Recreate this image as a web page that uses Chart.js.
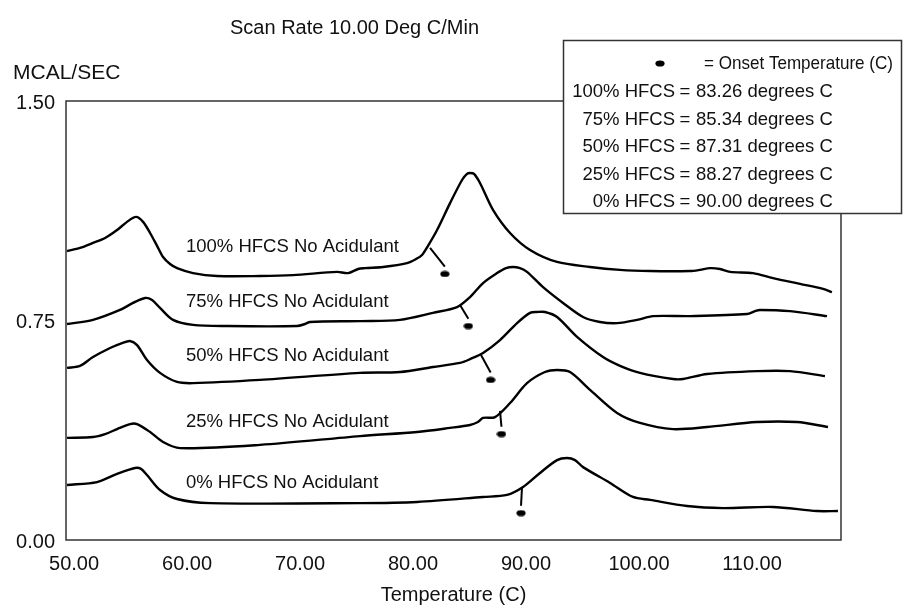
<!DOCTYPE html>
<html>
<head>
<meta charset="utf-8">
<script src="https://cdn.jsdelivr.net/npm/chart.js@4.4.0/dist/chart.umd.min.js"></script>
<style>
    html, body { margin: 0; padding: 0; background: #fff; }
    #wrap { width: 903px; height: 605px; }
</style>
</head>
<body>
<div id="wrap"><canvas id="dscChart" width="903" height="605"></canvas></div>
<script>
// DSC scans at 10 C/min, heat flow (mcal/sec) against temperature (C)
var seriesNames = ['100% HFCS', '75% HFCS', '50% HFCS', '25% HFCS', '0% HFCS'];
var onsetTemps = [83.26, 85.34, 87.31, 88.27, 90.00];
var onsetFlow = [0.909, 0.731, 0.547, 0.362, 0.092];
var kneeTemp = [81.95, 84.60, 86.46, 88.14, 90.09];
var kneeFlow = [0.998, 0.803, 0.632, 0.441, 0.181];
var xTickValues = [50, 60, 70, 80, 90, 100, 110];
var yTickValues = [0, 0.75, 1.5];

var temp100 = [49.82, 50.97, 52.12, 53.19, 54.25, 55.13, 55.93, 56.55, 57.17, 57.79, 58.32, 58.94, 59.56, 60.97, 63.10, 66.90, 69.82, 73.72, 74.69, 75.58, 76.19, 77.79, 79.91, 80.71, 81.24, 81.77, 82.57, 83.72, 84.78, 85.22, 85.49, 85.84, 86.37, 87.52, 89.03, 90.80, 93.19, 96.11, 98.76, 101.42, 104.96, 105.84, 106.73, 107.61, 108.50, 110.53, 112.30, 114.69, 116.73, 117.52];
var flow100 = [0.987, 0.998, 1.015, 1.032, 1.059, 1.087, 1.104, 1.087, 1.049, 1.005, 0.967, 0.943, 0.929, 0.912, 0.902, 0.902, 0.905, 0.916, 0.912, 0.926, 0.929, 0.933, 0.946, 0.960, 0.974, 1.005, 1.059, 1.151, 1.230, 1.251, 1.254, 1.251, 1.220, 1.128, 1.049, 0.991, 0.950, 0.933, 0.923, 0.919, 0.919, 0.923, 0.929, 0.926, 0.916, 0.912, 0.895, 0.875, 0.858, 0.847];

var temp75 = [49.82, 52.12, 54.51, 55.66, 56.73, 57.35, 58.05, 59.20, 60.97, 63.98, 70.18, 70.88, 71.33, 75.75, 79.29, 82.21, 84.34, 85.49, 86.64, 87.88, 88.67, 89.29, 89.91, 90.53, 91.95, 93.72, 95.49, 96.99, 98.50, 100.27, 101.68, 104.96, 110.00, 110.71, 111.15, 113.81, 117.08];
var flow75 = [0.738, 0.752, 0.786, 0.810, 0.827, 0.820, 0.793, 0.752, 0.735, 0.731, 0.731, 0.738, 0.745, 0.748, 0.752, 0.776, 0.796, 0.830, 0.878, 0.912, 0.929, 0.933, 0.929, 0.916, 0.864, 0.810, 0.762, 0.745, 0.741, 0.752, 0.765, 0.765, 0.772, 0.782, 0.786, 0.782, 0.765];

var temp50 = [49.82, 50.97, 52.12, 53.63, 54.69, 55.40, 56.02, 56.90, 58.05, 59.56, 60.97, 66.90, 75.75, 79.29, 82.21, 84.60, 85.49, 86.64, 88.14, 89.65, 90.80, 91.42, 92.12, 93.19, 94.96, 97.26, 98.76, 100.53, 103.45, 104.34, 106.46, 110.88, 113.81, 116.90];
var flow50 = [0.588, 0.595, 0.625, 0.656, 0.673, 0.680, 0.666, 0.615, 0.571, 0.540, 0.536, 0.547, 0.571, 0.574, 0.591, 0.605, 0.618, 0.639, 0.683, 0.741, 0.776, 0.779, 0.779, 0.762, 0.694, 0.625, 0.595, 0.571, 0.550, 0.550, 0.567, 0.577, 0.577, 0.560];

var temp25 = [49.82, 52.12, 53.19, 54.25, 55.40, 56.02, 57.17, 58.32, 59.82, 66.90, 75.75, 80.80, 83.72, 85.49, 86.19, 86.64, 87.70, 89.03, 90.53, 92.12, 93.19, 94.34, 96.11, 98.50, 100.53, 103.45, 106.46, 110.88, 114.42, 117.17];
var flow25 = [0.349, 0.352, 0.362, 0.379, 0.396, 0.396, 0.369, 0.335, 0.314, 0.325, 0.355, 0.369, 0.383, 0.393, 0.403, 0.417, 0.420, 0.468, 0.536, 0.574, 0.581, 0.574, 0.513, 0.434, 0.400, 0.379, 0.386, 0.403, 0.403, 0.386];

var temp0 = [49.82, 52.48, 54.25, 55.84, 56.37, 56.90, 58.05, 59.56, 62.48, 75.75, 80.80, 86.64, 88.76, 90.18, 91.68, 93.19, 94.07, 94.78, 95.49, 97.88, 99.91, 101.42, 104.69, 107.88, 112.30, 116.19, 118.05];
var flow0 = [0.188, 0.198, 0.226, 0.246, 0.243, 0.222, 0.171, 0.140, 0.126, 0.126, 0.130, 0.147, 0.154, 0.181, 0.229, 0.273, 0.280, 0.273, 0.249, 0.195, 0.147, 0.137, 0.116, 0.109, 0.113, 0.099, 0.099];

// where the "No Acidulant" captions sit, in axis units
var captionTemp = 60.35;
var captionFlow = [1.001, 0.813, 0.629, 0.403, 0.195];

var curves = [[temp100, flow100], [temp75, flow75], [temp50, flow50], [temp25, flow25], [temp0, flow0]];

var FONT = '"Liberation Sans", Arial, Helvetica, sans-serif';
var INK = '#111';

// small filled ellipse used for the onset marks
var dotImg = document.createElement('canvas');
dotImg.width = 10;
dotImg.height = 7;
var dctx = dotImg.getContext('2d');
dctx.fillStyle = '#000';
dctx.beginPath();
dctx.ellipse(5, 3.5, 4.6, 3.1, 0, 0, Math.PI * 2);
dctx.fill();

var datasets = [];
curves.forEach(function (c, i) {
    datasets.push({
        label: seriesNames[i],
        data: c[0].map(function (t, j) { return { x: t, y: c[1][j] }; }),
        showLine: true,
        borderColor: '#000',
        borderWidth: 2.4,
        pointRadius: 0,
        tension: 0.3,
        fill: false
    });
    // tangent stroke from the rising edge down to the onset mark
    datasets.push({
        label: seriesNames[i] + ' onset line',
        data: [{ x: kneeTemp[i], y: kneeFlow[i] }, { x: onsetTemps[i], y: onsetFlow[i] + 0.025 }],
        showLine: true,
        borderColor: '#000',
        borderWidth: 2,
        pointRadius: 0,
        tension: 0
    });
});
datasets.push({
    label: 'Onset',
    data: onsetTemps.map(function (t, i) { return { x: t, y: onsetFlow[i] }; }),
    showLine: false,
    pointStyle: dotImg,
    pointRadius: 5,
    borderColor: '#000',
    backgroundColor: '#000'
});

var notes = {
    id: 'notes',
    afterDraw: function (chart) {
        var ctx = chart.ctx;
        var a = chart.chartArea;
        var xs = chart.scales.x, ys = chart.scales.y;
        ctx.save();

        // plot frame
        ctx.strokeStyle = '#333';
        ctx.lineWidth = 1.5;
        ctx.strokeRect(a.left, a.top, a.right - a.left, a.bottom - a.top);

        ctx.fillStyle = INK;
        ctx.textBaseline = 'middle';

        // header and unit label
        ctx.textAlign = 'left';
        ctx.font = '20px ' + FONT;
        ctx.fillText('Scan Rate 10.00 Deg C/Min', 230, 28);
        ctx.font = '21px ' + FONT;
        ctx.fillText('MCAL/SEC', 13, 73);

        // captions next to each trace
        ctx.font = '18.5px ' + FONT;
        seriesNames.forEach(function (name, i) {
            ctx.fillText(name + ' No Acidulant', xs.getPixelForValue(captionTemp), ys.getPixelForValue(captionFlow[i]));
        });

        // key box with onset temperatures
        var bx = 563.5, by = 40.5, bw = 338, bh = 173;
        ctx.fillStyle = '#fff';
        ctx.fillRect(bx, by, bw, bh);
        ctx.strokeStyle = '#333';
        ctx.lineWidth = 1.5;
        ctx.strokeRect(bx, by, bw, bh);

        ctx.fillStyle = INK;
        ctx.font = '18.5px ' + FONT;
        ctx.drawImage(dotImg, 655, 60);
        ctx.textAlign = 'left';
        ctx.fillText('= Onset Temperature (C)', 704, 64, 189);

        seriesNames.forEach(function (name, i) {
            var y = 92 + i * 27.5;
            ctx.textAlign = 'right';
            ctx.fillText(name, 675, y);
            ctx.textAlign = 'center';
            ctx.fillText('=', 685, y);
            ctx.textAlign = 'left';
            ctx.fillText(onsetTemps[i].toFixed(2) + ' degrees C', 696, y);
        });

        ctx.restore();
    }
};

new Chart(document.getElementById('dscChart'), {
    type: 'scatter',
    data: { datasets: datasets },
    options: {
        responsive: false,
        animation: false,
        devicePixelRatio: 1,
        layout: { padding: { left: 0, top: 101, right: 62, bottom: 0 } },
        plugins: {
            legend: { display: false },
            tooltip: { enabled: false }
        },
        scales: {
            x: {
                type: 'linear',
                min: 49.73,
                max: 118.32,
                afterBuildTicks: function (scale) {
                    scale.ticks = xTickValues.map(function (v) { return { value: v }; });
                },
                afterFit: function (scale) { scale.height = 65; },
                grid: { display: false, drawTicks: false },
                border: { display: false },
                ticks: {
                    padding: 12,
                    labelOffset: 5,
                    maxRotation: 0,
                    color: INK,
                    font: { family: FONT, size: 20 },
                    callback: function (v) { return Number(v).toFixed(2); }
                },
                title: {
                    display: true,
                    text: 'Temperature (C)',
                    color: INK,
                    font: { family: FONT, size: 20, lineHeight: 1 },
                    padding: { top: 0, bottom: 0 }
                }
            },
            y: {
                type: 'linear',
                min: 0,
                max: 1.5,
                afterBuildTicks: function (scale) {
                    scale.ticks = yTickValues.map(function (v) { return { value: v }; });
                },
                afterFit: function (scale) { scale.width = 66; },
                grid: { display: false, drawTicks: false },
                border: { display: false },
                ticks: {
                    padding: 11,
                    labelOffset: 2,
                    color: INK,
                    font: { family: FONT, size: 20 },
                    callback: function (v) { return Number(v).toFixed(2); }
                }
            }
        }
    },
    plugins: [notes]
});
</script>
</body>
</html>
